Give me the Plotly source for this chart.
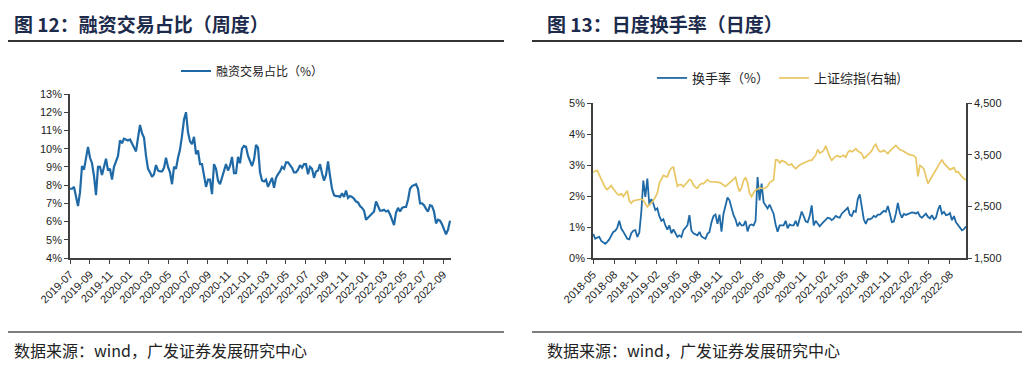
import pandas as pd
import plotly.graph_objects as go

# ---------------- data: left chart (weekly margin-trading share, %) ----------------
margin_start = "2019-07-01"
margin_end = "2022-09-22"
margin_share = [
    7.8, 7.8, 7.9, 7.3, 6.85, 7.6, 9.05, 8.85, 9.6, 10.1, 9.5, 9.2, 8.5, 7.45, 9.0, 9.0,
    8.55, 9.0, 9.45, 8.8, 8.9, 8.3, 9.0, 9.3, 9.6, 10.45, 10.3, 10.55, 10.5, 10.45, 10.5,
    10.25, 10.05, 9.85, 10.6, 11.3, 10.85, 10.6, 9.6, 8.9, 8.7, 8.45, 8.6, 9.1, 8.8, 8.75,
    8.75, 8.95, 9.5, 9.0, 8.7, 8.05, 9.0, 8.9, 9.5, 9.95, 10.7, 11.6, 12.0, 10.9, 10.4,
    10.25, 10.65, 9.7, 9.9, 9.15, 9.15, 8.6, 7.9, 8.3, 8.3, 7.5, 9.15, 8.9, 8.25, 8.05,
    8.45, 8.7, 9.15, 8.8, 9.05, 9.55, 8.65, 8.65, 9.55, 9.2, 10.0, 10.15, 10.1, 9.6, 9.3,
    9.05, 9.4, 10.2, 10.05, 8.7, 8.25, 8.2, 8.3, 7.9, 8.15, 8.4, 7.85, 8.4, 8.6, 8.75,
    9.0, 8.9, 9.25, 9.25, 9.1, 8.95, 8.7, 8.7, 8.85, 9.1, 8.95, 9.15, 9.15, 8.6, 9.0, 8.9,
    8.4, 8.75, 8.8, 9.15, 8.65, 8.25, 8.55, 9.3, 8.5, 7.8, 7.45, 7.4, 7.4, 7.35, 7.55,
    7.35, 7.7, 7.3, 7.4, 7.35, 7.25, 7.1, 7.05, 6.85, 6.75, 6.6, 6.1, 6.2, 6.35, 6.45,
    6.55, 7.1, 6.8, 6.6, 6.6, 6.65, 6.55, 6.6, 6.4, 6.05, 5.8, 6.5, 6.75, 6.55, 6.75, 6.8,
    6.8, 7.2, 7.8, 7.95, 8.0, 8.05, 7.8, 7.0, 7.0, 6.9, 6.7, 6.55, 6.9, 6.85, 6.55, 5.9,
    6.1, 6.05, 5.85, 5.55, 5.3, 5.55, 6.05,
]

# ---------------- data: right chart (daily turnover %, SSE composite) ----------------
daily_start = "2018-05-02"
daily_end = "2022-10-10"
turnover = [
    0.78, 0.62, 0.66, 0.68, 0.55, 0.50, 0.46, 0.52, 0.60, 0.72, 0.84, 0.88, 0.98, 1.20,
    0.95, 0.85, 0.73, 0.62, 0.60, 0.80, 0.88, 0.90, 0.68, 0.82, 1.50, 2.50, 1.97, 2.56,
    1.70, 1.90, 1.75, 1.55, 1.60, 1.35, 1.20, 1.25, 1.05, 0.92, 1.05, 0.80, 0.92, 0.80,
    0.68, 0.73, 0.68, 0.90, 0.98, 1.05, 1.38, 0.88, 0.80, 0.76, 0.73, 0.84, 0.70, 0.65,
    0.62, 0.78, 0.84, 1.15, 1.35, 1.40, 1.10, 1.40, 0.85, 1.43, 1.65, 1.95, 1.86, 1.62,
    1.38, 1.25, 1.02, 1.14, 1.05, 1.05, 1.20, 0.86, 1.05, 1.08, 1.05, 1.20, 2.61, 1.86,
    2.40, 1.80, 1.70, 1.60, 1.72, 1.54, 1.43, 1.08, 0.85, 1.05, 1.05, 1.05, 1.20, 0.96,
    1.08, 1.05, 1.05, 1.20, 1.02, 1.30, 1.50, 1.35, 1.18, 1.15, 1.35, 1.70, 1.05, 1.20,
    1.10, 1.02, 1.10, 1.16, 1.22, 1.30, 1.28, 1.22, 1.27, 1.36, 1.32, 1.30, 1.43, 1.49,
    1.55, 1.62, 1.40, 1.35, 1.52, 1.49, 1.90, 2.05, 1.65, 1.25, 1.10, 1.25, 1.25, 1.28,
    1.36, 1.32, 1.40, 1.40, 1.46, 1.52, 1.49, 1.68, 1.43, 1.16, 1.18, 1.43, 1.78, 1.45,
    1.30, 1.42, 1.39, 1.41, 1.43, 1.47, 1.46, 1.43, 1.48, 1.35, 1.30, 1.38, 1.43, 1.33,
    1.28, 1.38, 1.25, 1.30, 1.55, 1.70, 1.43, 1.49, 1.38, 1.40, 1.45, 1.22, 1.35, 1.15,
    1.05, 0.98, 0.89, 0.93, 1.02,
]
sse_index = [
    3164, 3180, 3195, 3110, 3020, 2920, 2860, 2825, 2860, 2900, 2840, 2777, 2740, 2720,
    2745, 2690, 2750, 2800, 2600, 2560, 2610, 2620, 2616, 2640, 2640, 2620, 2540, 2490,
    2530, 2570, 2610, 2680, 2760, 2950, 3040, 3100, 3080, 3070, 3180, 3240, 3261, 3100,
    2890, 2920, 2920, 2880, 2920, 2975, 3020, 3000, 2910, 2870, 2850, 2910, 2940, 2940,
    2980, 3016, 2980, 2970, 2971, 2975, 2970, 2960, 2940, 2910, 2887, 2920, 2960, 3000,
    3040, 3060, 2900, 2790, 2860, 3000, 3060, 2960, 2750, 2690, 2760, 2815, 2830, 2855,
    2850, 2842, 2860, 2890, 2960, 2990, 3010, 3400, 3400, 3340, 3385, 3370, 3355, 3310,
    3300, 3320, 3261, 3230, 3270, 3300, 3320, 3340, 3360, 3380, 3390, 3390, 3440, 3490,
    3600, 3530, 3550, 3584, 3670, 3560, 3460, 3390, 3423, 3470, 3480, 3455, 3470, 3487,
    3450, 3540, 3580, 3555, 3580, 3616, 3570, 3545, 3520, 3430, 3455, 3500, 3530, 3580,
    3660, 3700, 3610, 3560, 3560, 3584, 3550, 3520, 3570, 3600, 3645, 3680, 3630, 3595,
    3585, 3560, 3532, 3515, 3500, 3490, 3480, 3440, 3080, 3290, 3265, 3220, 3100, 2940,
    3010, 3080, 3140, 3197, 3280, 3340, 3403, 3330, 3290, 3260, 3210, 3230, 3250, 3165,
    3170, 3120, 3070, 3030, 3016,
]

left_title = "图 12：融资交易占比（周度）"
right_title = "图 13：日度换手率（日度）"
source_text = "数据来源：wind，广发证券发展研究中心"
margin_name = "融资交易占比（%）"
turnover_name = "换手率（%）"
sse_name = "上证综指(右轴)"

margin_dates = pd.date_range(margin_start, margin_end, periods=len(margin_share))
turnover_dates = pd.date_range(daily_start, daily_end, periods=len(turnover))
sse_dates = pd.date_range(daily_start, daily_end, periods=len(sse_index))

BLUE = "#1f6aa6"
GOLD = "#e8c662"
AXIS = "#404040"
OFF = 8  # page body margin in the browser
W, H = 1030 - OFF, 383 - OFF
TICKFONT = dict(family="Liberation Sans, Arial", size=11, color="#222222")
CJK = "Noto Sans CJK SC"


def px_x(p):
    return (p - OFF) / W


def px_y(p):
    return 1 - (p - OFF) / H


fig = go.Figure()
fig.add_trace(go.Scatter(x=margin_dates, y=margin_share, name=margin_name, mode="lines",
                         line=dict(color=BLUE, width=2.2), xaxis="x", yaxis="y",
                         legend="legend"))
fig.add_trace(go.Scatter(x=turnover_dates, y=turnover, name=turnover_name, mode="lines",
                         line=dict(color=BLUE, width=1.8), xaxis="x2", yaxis="y2",
                         legend="legend2"))
fig.add_trace(go.Scatter(x=sse_dates, y=sse_index, name=sse_name, mode="lines",
                         line=dict(color=GOLD, width=1.7), xaxis="x2", yaxis="y3",
                         legend="legend2"))

axis_common = dict(showline=True, linecolor=AXIS, linewidth=1.6, ticks="outside",
                   tickcolor=AXIS, ticklen=4, tickwidth=1.2, showgrid=False,
                   zeroline=False, tickfont=TICKFONT, automargin=False)

fig.update_layout(
    template="none",
    width=W, height=H, margin=dict(l=0, r=0, t=0, b=0, autoexpand=False),
    paper_bgcolor="white", plot_bgcolor="white",
    showlegend=True,
    xaxis=dict(domain=[px_x(70), px_x(451)], anchor="y", type="date",
               range=["2019-07-01", "2022-09-25"], tick0="2019-07-01", dtick="M2",
               tickformat="%Y-%m", tickangle=-45, **axis_common),
    yaxis=dict(domain=[px_y(258), px_y(94)], anchor="x", range=[4, 13], dtick=1,
               ticksuffix="%", **axis_common),
    xaxis2=dict(domain=[px_x(593), px_x(966)], anchor="y2", type="date",
                range=["2018-05-01", "2022-10-10"], tick0="2018-05-01", dtick="M3",
                tickformat="%Y-%m", tickangle=-45, **axis_common),
    yaxis2=dict(domain=[px_y(258), px_y(103)], anchor="x2", range=[0, 5], dtick=1,
                ticksuffix="%", **axis_common),
    yaxis3=dict(overlaying="y2", side="right", anchor="x2", range=[1500, 4500],
                tick0=1500, dtick=1000, tickformat=",d", **axis_common),
    legend=dict(x=px_x(176), y=px_y(71), xanchor="left", yanchor="middle",
                orientation="h", bgcolor="rgba(0,0,0,0)",
                font=dict(family=CJK, size=12, color="#222222"),
                itemwidth=30, tracegroupgap=0),
    legend2=dict(x=px_x(652), y=px_y(78), xanchor="left", yanchor="middle",
                 orientation="h", bgcolor="rgba(0,0,0,0)",
                 font=dict(family=CJK, size=13, color="#222222"),
                 itemwidth=30, tracegroupgap=0),
)

# header / footer rules
for x0, x1 in [(OFF, 504), (532, 1030)]:
    fig.add_shape(type="line", xref="paper", yref="paper", x0=px_x(x0), x1=px_x(x1),
                  y0=px_y(41), y1=px_y(41), line=dict(color="#333333", width=2))
    fig.add_shape(type="line", xref="paper", yref="paper", x0=px_x(x0), x1=px_x(x1),
                  y0=px_y(332), y1=px_y(332), line=dict(color="#555555", width=1.5))

for xp, txt in [(12, left_title), (545, right_title)]:
    fig.add_annotation(x=px_x(xp), y=px_y(24), xref="paper", yref="paper",
                       xanchor="left", yanchor="middle", showarrow=False,
                       text="<b>" + txt + "</b>",
                       font=dict(family=CJK, size=19, color="#1c2b4b"))
for xp in [12, 545]:
    fig.add_annotation(x=px_x(xp), y=px_y(350), xref="paper", yref="paper",
                       xanchor="left", yanchor="middle", showarrow=False,
                       text=source_text,
                       font=dict(family=CJK, size=16, color="#222222"))

fig.write_html("out.html")
